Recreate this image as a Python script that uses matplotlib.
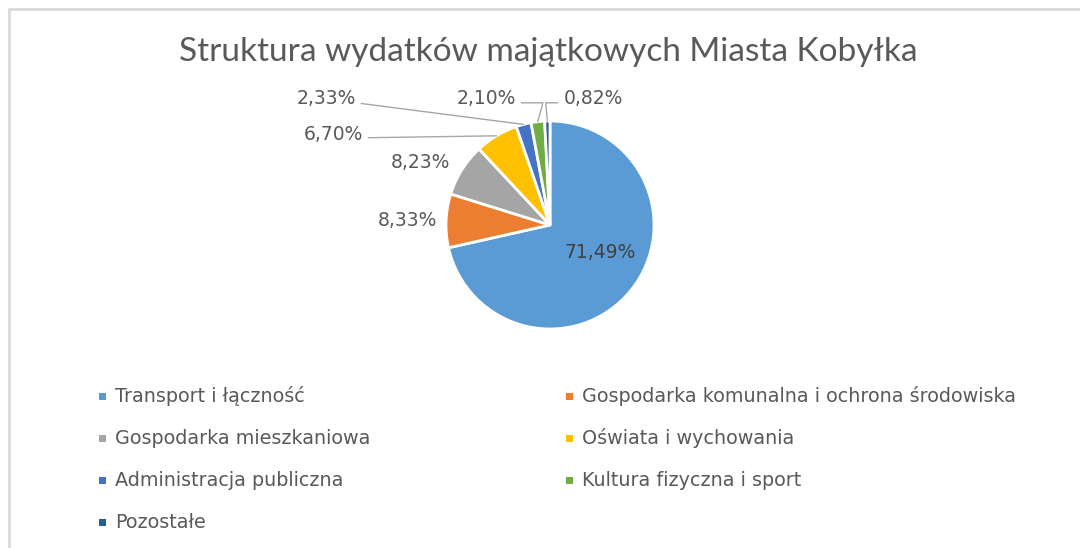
import math
import matplotlib.pyplot as plt
from matplotlib.patches import Rectangle

# Data
categories = ['Transport i łączność', 'Gospodarka komunalna i ochrona środowiska',
              'Gospodarka mieszkaniowa', 'Oświata i wychowania',
              'Administracja publiczna', 'Kultura fizyczna i sport', 'Pozostałe']
shares = [71.49, 8.33, 8.23, 6.70, 2.33, 2.10, 0.82]
colors = ['#5B9BD5', '#ED7D31', '#A5A5A5', '#FFC000', '#4472C4', '#70AD47', '#255E91']
title = 'Struktura wydatków majątkowych Miasta Kobyłka'

plt.rcParams['font.family'] = ['DejaVu Sans']
txt_color = '#595959'

W, H = 1080, 548
fig = plt.figure(figsize=(W / 100, H / 100), dpi=100)

# light frame like the Excel chart area
fig.add_artist(Rectangle((9 / W, -0.1), 1.2, 1 - 9 / H + 0.1, transform=fig.transFigure,
                         facecolor='none', edgecolor='#D9D9D9', linewidth=2))

fig.text(548 / W, 1 - 52 / H, title, ha='center', va='center', fontsize=24,
         color=txt_color, family=['Lato', 'DejaVu Sans'])

# pie axes: center (550, 225) px, radius 104 px
cx, cy, r = 550, 225, 104
ax = fig.add_axes([(cx - r) / W, 1 - (cy + r) / H, 2 * r / W, 2 * r / H])
wedges, _ = ax.pie(shares, colors=colors, startangle=90, counterclock=False,
                   wedgeprops=dict(edgecolor='white', linewidth=2))
ax.set_xlim(-1, 1)
ax.set_ylim(-1, 1)
ax.set_aspect('equal')
ax.axis('off')

def fmt(v):
    return f'{v:.2f}%'.replace('.', ',')

# label positions (pixels) and leader style
label_px = [(600, 252), (407, 220), (420, 162), (333, 134), (326, 99), (486, 99), (593, 99)]
leader = [None, None, None, 'straight', 'straight', 'right', 'left']

for i, (w, v) in enumerate(zip(wedges, shares)):
    tx = (label_px[i][0] - cx) / r
    ty = (cy - label_px[i][1]) / r
    col = '#404040' if i == 0 else txt_color
    if leader[i] is None:
        ax.text(tx, ty, fmt(v), ha='center', va='center', fontsize=13.5, color=col)
        continue
    ang = math.radians((w.theta1 + w.theta2) / 2)
    xy = (math.cos(ang), math.sin(ang))
    if leader[i] == 'straight':
        cs = 'arc3'
        rel = (1, 0.3)
    elif leader[i] == 'right':
        cs = 'angle,angleA=0,angleB=75,rad=0'
        rel = (1, 0.3)
    else:
        cs = 'angle,angleA=180,angleB=95,rad=0'
        rel = (0, 0.3)
    ax.annotate(fmt(v), xy=xy, xytext=(tx, ty), ha='center', va='center',
                fontsize=13.5, color=col,
                arrowprops=dict(arrowstyle='-', color='#A6A6A6', lw=1,
                                connectionstyle=cs, relpos=rel,
                                shrinkA=2, shrinkB=0))

# legend: two columns, filled row by row
col_x = [99, 566]
row_y = [396, 438, 480, 522]
for i, (name, c) in enumerate(zip(categories, colors)):
    x = col_x[i % 2]
    y = row_y[i // 2]
    fig.add_artist(Rectangle((x / W, 1 - (y + 3.5) / H), 7 / W, 7 / H,
                             transform=fig.transFigure, facecolor=c, edgecolor='none'))
    fig.text((x + 16) / W, 1 - y / H, name, ha='left', va='center', fontsize=13.8,
             color=txt_color)

fig.savefig('out.png', dpi=100)
